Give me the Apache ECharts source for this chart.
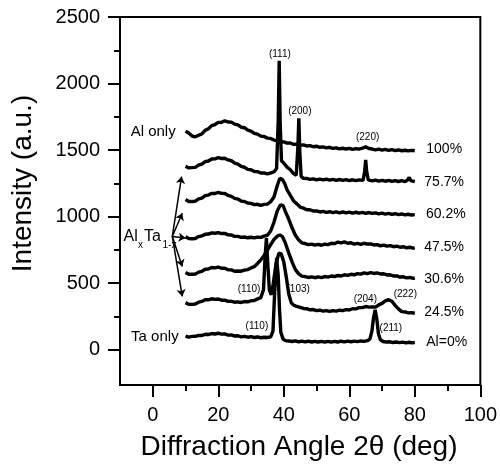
<!DOCTYPE html>
<html><head><meta charset="utf-8">
<script src="https://cdn.jsdelivr.net/npm/echarts@6/dist/echarts.min.js"></script>
<style>html,body{margin:0;padding:0;background:#fff}#c{width:500px;height:464px}</style>
</head><body><div id="c"></div>
<script>
// ---- axis ticks ----
const xTickLabels = [0, 20, 40, 60, 80, 100];
const xMinorTicks = [10, 30, 50, 70, 90];
const yTickLabels = [0, 500, 1000, 1500, 2000, 2500];
const yMinorTicks = [250, 750, 1250, 1750, 2250];

// ---- traces [2theta, intensity] ----
const trace100 = [[10,1642],[11,1628],[12,1606],[13,1600],[14,1611],[15,1622],[16,1648],[17,1660],[18,1684],[19,1692],[20,1708],[21,1709],[22,1720],[23,1711],[24,1710],[25,1695],[26,1690],[27,1672],[28,1668],[29,1650],[30,1643],[31,1626],[32,1620],[33,1605],[34,1602],[35,1590],[36,1588],[37,1575],[38,1572],[39,1562],[40,1562],[41,1552],[42,1553],[43,1543],[44,1545],[45,1537],[46,1539],[47,1531],[48,1534],[49,1525],[50,1529],[51,1521],[52,1524],[53,1517],[54,1521],[55,1513],[56,1517],[57,1510],[58,1514],[59,1508],[60,1513],[61,1506],[62,1511],[63,1507],[64,1514],[65,1524],[66,1512],[67,1508],[68,1502],[69,1507],[70,1500],[71,1505],[72,1498],[73,1503],[74,1496],[75,1501],[76,1495],[77,1499],[78,1494],[79,1498],[80,1495]];
const trace757 = [[10,1378],[11,1366],[12,1368],[13,1370],[14,1388],[15,1395],[16,1413],[17,1418],[18,1433],[19,1434],[20,1443],[21,1437],[22,1439],[23,1426],[24,1420],[25,1402],[26,1395],[27,1377],[28,1371],[29,1355],[30,1352],[31,1339],[32,1338],[33,1328],[34,1328],[35,1322],[36,1328],[37,1336],[37.8,1362],[38.3,1720],[38.6,2172],[38.9,1700],[39.3,1420],[40,1402],[41,1372],[42,1352],[43,1322],[43.8,1312],[44.3,1520],[44.6,1739],[44.9,1480],[45.3,1302],[46,1288],[47,1287],[48,1280],[49,1284],[50,1277],[51,1282],[52,1276],[53,1281],[54,1274],[55,1280],[56,1273],[57,1279],[58,1272],[59,1278],[60,1271],[61,1277],[62,1270],[63,1276],[64.2,1272],[64.7,1340],[65,1426],[65.3,1340],[65.8,1276],[67,1268],[68,1274],[69,1267],[70,1273],[71,1266],[72,1272],[73,1265],[74,1271],[75,1264],[76,1270],[77,1263],[77.8,1275],[78.3,1294],[78.8,1270],[79.4,1266],[80,1263]];
const trace602 = [[10,1128],[11,1114],[12,1114],[13,1116],[14,1133],[15,1139],[16,1158],[17,1162],[18,1175],[19,1174],[20,1183],[21,1175],[22,1174],[23,1159],[24,1152],[25,1137],[26,1132],[27,1117],[28,1114],[29,1102],[30,1100],[31,1090],[32,1093],[33,1085],[34,1092],[35,1094],[36,1112],[37,1148],[38,1232],[38.8,1288],[39.6,1278],[40.3,1248],[41,1202],[42,1160],[43,1118],[44,1096],[45,1072],[46,1064],[47,1052],[48,1052],[49,1042],[50,1043],[51,1035],[52,1040],[53,1032],[54,1037],[55,1030],[56,1036],[57,1029],[58,1035],[59,1028],[60,1034],[61,1027],[62,1033],[63,1026],[64,1032],[65,1025],[66,1031],[67,1024],[68,1028],[69,1021],[70,1026],[71,1019],[72,1024],[73,1017],[74,1022],[75,1015],[76,1020],[77,1013],[78,1018],[79,1012],[80,1015]];
const trace475 = [[10,848],[11,835],[12,834],[13,836],[14,850],[15,855],[16,868],[17,869],[18,878],[19,875],[20,880],[21,873],[22,874],[23,863],[24,862],[25,852],[26,852],[27,844],[28,847],[29,841],[30,845],[31,840],[32,846],[33,844],[34,854],[35,860],[36,892],[37,958],[38,1042],[39,1089],[39.8,1082],[40.5,1038],[41.5,982],[42.5,918],[43.5,862],[44.5,826],[45.5,803],[46.5,798],[47.5,790],[48.5,793],[49.5,786],[50.5,791],[51.5,785],[52.5,793],[53.5,790],[54.5,800],[55.5,797],[56.5,809],[57.5,803],[58.5,810],[59.5,800],[60.5,804],[61.5,794],[62.5,799],[63.5,792],[64.5,800],[65.5,794],[66.5,795],[67.5,787],[68.5,790],[69.5,781],[70.5,786],[71.5,778],[72.5,782],[73.5,774],[74.5,778],[75.5,770],[76.5,774],[77.5,766],[78.5,770],[79.5,763],[80,766]];
const trace306 = [[10,580],[11,567],[12,567],[13,568],[14,583],[15,589],[16,605],[17,607],[18,618],[19,615],[20,621],[21,612],[22,612],[23,601],[24,600],[25,590],[26,592],[27,590],[28,598],[29,602],[30,615],[31,624],[32,648],[33,676],[34,708],[35,748],[36,790],[37,828],[38,852],[38.8,863],[39.6,850],[40.5,800],[41.5,728],[42.5,662],[43.5,604],[44.5,572],[45.5,553],[46.5,550],[47.5,543],[48.5,548],[49.5,541],[50.5,547],[51.5,542],[52.5,550],[53.5,546],[54.5,554],[55.5,550],[56.5,558],[57.5,554],[58.5,563],[59.5,559],[60.5,567],[61.5,563],[62.5,572],[63.5,568],[64.5,577],[65.5,572],[66.5,579],[67.5,573],[68.5,577],[69.5,569],[70.5,571],[71.5,562],[72.5,563],[73.5,554],[74.5,555],[75.5,546],[76.5,548],[77.5,540],[78.5,543],[79.5,536],[80,539]];
const trace245 = [[10,354],[11,342],[12,341],[13,344],[14,357],[15,363],[16,375],[17,375],[18,383],[19,378],[20,381],[21,372],[22,372],[23,363],[24,364],[25,357],[26,360],[27,355],[28,362],[29,360],[30,368],[31,370],[32,382],[33,392],[33.8,450],[34.3,700],[34.7,838],[35.1,650],[35.6,450],[36.2,413],[36.8,500],[37.6,640],[38.5,726],[39.2,720],[40,660],[40.8,540],[41.5,420],[42.3,352],[43,335],[44,325],[45,318],[46,310],[47,308],[48,300],[49,302],[50,294],[51,297],[52,290],[53,294],[54,288],[55,294],[56,290],[57,297],[58,294],[59,301],[60,299],[61,308],[62,307],[63,316],[64,316],[65,325],[66,320],[67,321],[68,320],[69,337],[70,348],[71,367],[72,376],[73,364],[74,333],[75,307],[76,286],[77,284],[78,277],[79,279],[80,274]];
const trace0 = [[10,102],[11,95],[12,100],[13,101],[14,108],[15,107],[16,116],[17,114],[18,122],[19,118],[20,124],[21,117],[22,119],[23,110],[24,111],[25,103],[26,105],[27,97],[28,100],[29,94],[30,98],[31,92],[32,96],[33,90],[34,94],[35,92],[36,97],[36.7,140],[37.2,420],[37.8,690],[38.3,560],[38.7,300],[39.1,130],[39.8,80],[40.5,68],[41.5,66],[42.5,62],[43.5,66],[44.5,60],[45.5,65],[46.5,59],[47.5,64],[48.5,58],[49.5,63],[50.5,58],[51.5,63],[52.5,57],[53.5,63],[54.5,57],[55.5,63],[56.5,58],[57.5,64],[58.5,59],[59.5,65],[60.5,60],[61.5,65],[62.5,61],[63.5,66],[64.5,63],[65.5,68],[66.3,80],[66.9,140],[67.4,240],[67.9,300],[68.4,230],[68.9,120],[69.5,75],[70.3,62],[71.3,58],[72.3,60],[73.3,54],[74.3,58],[75.3,53],[76.3,57],[77.3,52],[78.3,56],[79.3,52],[80,55]];

// ---- annotations [text, x, y] ----
const compositionLabels = [['100%',83.5,1509],['75.7%',82.9,1258],['60.2%',83.4,1021],['47.5%',82.9,770],['30.6%',82.9,533],['24.5%',82.9,282],['Al=0%',83.5,60]];
const endLabels = [['Al only',7.0,1637],['Ta only',7.9,98]];
const peakLabels = [['(111)',38.8,2222],['(200)',44.9,1794],['(220)',65.6,1599],['(110)',29.4,458],['(103)',44.4,458],['(110)',31.8,180],['(204)',64.9,383],['(222)',77.1,420],['(211)',72.7,158]];
const arrowStart = [5.97, 851];
const arrowEnds = [[8.8,1301],[9.0,1026],[10.0,839],[9.0,625],[9.0,400]];

const FONT = '"Liberation Sans", Arial, Helvetica, sans-serif';
const chart = echarts.init(document.getElementById('c'), null, {renderer: 'canvas'});

function plain(v) { return String(v); }
function xAx(major) {
  return {
    type: 'value', min: -10, max: 100, position: 'bottom',
    axisLine: major ? {show: true, onZero: false, lineStyle: {color: '#000', width: 2}} : {show: false, onZero: false},
    axisTick: {show: true, inside: false, customValues: major ? xTickLabels : xMinorTicks, length: major ? 12 : 6, lineStyle: {color: '#000', width: 2}},
    axisLabel: major ? {show: true, customValues: xTickLabels, formatter: plain, color: '#000', fontSize: 20, fontFamily: FONT, margin: 20} : {show: false},
    splitLine: {show: false}
  };
}
function yAx(major) {
  return {
    type: 'value', min: -265, max: 2500, position: 'left',
    axisLine: major ? {show: true, onZero: false, lineStyle: {color: '#000', width: 2}} : {show: false, onZero: false},
    axisTick: {show: true, inside: false, customValues: major ? yTickLabels : yMinorTicks, length: major ? 12 : 6, lineStyle: {color: '#000', width: 2}},
    axisLabel: major ? {show: true, customValues: yTickLabels, formatter: plain, color: '#000', fontSize: 20, fontFamily: FONT, margin: 20} : {show: false},
    splitLine: {show: false}
  };
}
const traces = [trace100, trace757, trace602, trace475, trace306, trace245, trace0];
const series = traces.map(d => ({
  type: 'line', data: d, showSymbol: false, symbol: 'none', smooth: false,
  xAxisIndex: 0, yAxisIndex: 0,
  lineStyle: {color: '#000', width: 3.4}, z: 3
}));
series.push({
  type: 'lines', coordinateSystem: 'cartesian2d', xAxisIndex: 0, yAxisIndex: 0,
  symbol: ['none', 'arrow'], symbolSize: 7,
  lineStyle: {color: '#000', width: 1.5, opacity: 1},
  data: arrowEnds.map(e => ({coords: [arrowStart, e]})), z: 4
});

chart.setOption({
  animation: false,
  backgroundColor: '#fff',
  grid: {left: 120, right: 17, top: 17, bottom: 79, show: true, borderColor: '#000', borderWidth: 2, backgroundColor: 'transparent'},
  xAxis: [xAx(true), xAx(false)],
  yAxis: [yAx(true), yAx(false)],
  series: series
});

function px(x, y) { return chart.convertToPixel({xAxisIndex: 0, yAxisIndex: 0}, [x, y]); }
const g = [];
function txt(s, x, y, size, align, opts) {
  g.push(Object.assign({type: 'text', x: x, y: y, style: {text: s, fill: '#000', font: size + 'px ' + FONT, textAlign: align, textVerticalAlign: 'middle'}, z: 10}, opts || {}));
}
compositionLabels.forEach(l => { const p = px(l[1], l[2]); txt(l[0], p[0], p[1], 14, 'left'); });
endLabels.forEach(l => { const p = px(l[1], l[2]); txt(l[0], p[0], p[1], 15, 'right'); });
peakLabels.forEach(l => { const p = px(l[1], l[2]); txt(l[0], p[0], p[1], 10, 'center'); });
// Al_x Ta_1-x label
(function () {
  const a = px(-8.9, 852), b = px(-4.5, 788), c = px(-2.7, 852), d = px(3.0, 785);
  txt('Al', a[0], a[1], 16, 'left');
  txt('x', b[0], b[1], 10, 'left');
  txt('Ta', c[0], c[1], 16, 'left');
  txt('1-x', d[0], d[1], 10, 'left');
})();
// axis titles
txt('Diffraction Angle 2\u03b8 (deg)', 299, 447, 28, 'center');
txt('Intensity (a.u.)', 23, 183.5, 28, 'center', {rotation: Math.PI / 2});
chart.setOption({graphic: g});
</script></body></html>
